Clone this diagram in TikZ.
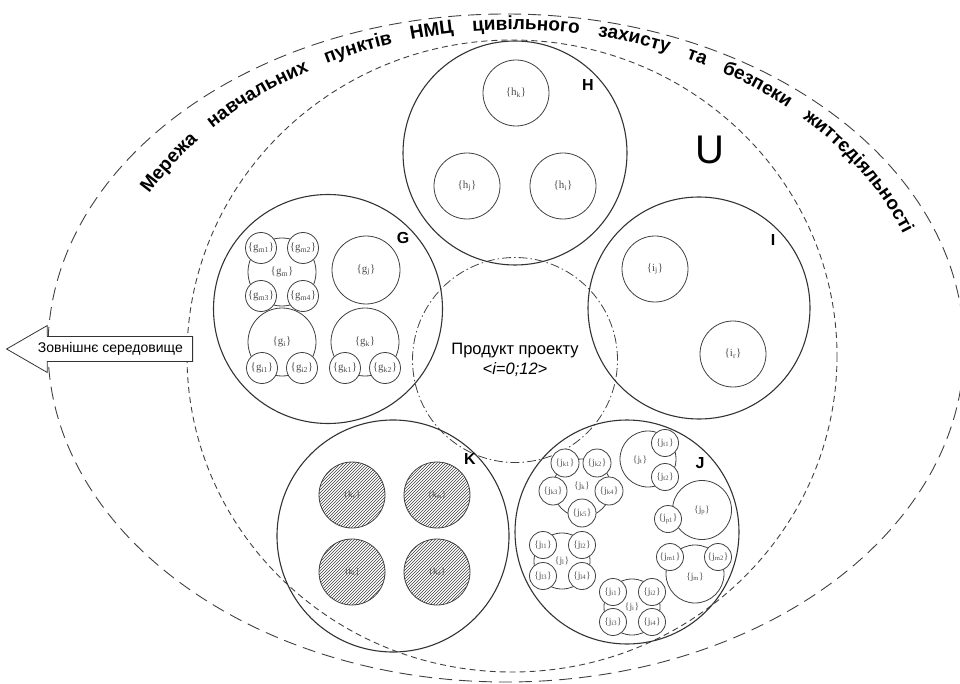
\documentclass[tikz,border=0pt]{standalone}
\usepackage{fontspec}
\setmainfont{Liberation Sans}
\newfontfamily\labfont{Liberation Serif}
\usetikzlibrary{shapes.arrows,patterns,decorations.text}
\newcommand{\setl}[2]{{\labfont\{#1\textsubscript{#2}\}}}
\newcommand{\arcfont}{\bfseries\fontsize{19}{19}\selectfont}

\begin{document}
\begin{tikzpicture}[x=1pt, y=-1pt,
    every node/.style={inner sep=0pt},
    outer/.style={draw=black!75, line width=0.9pt, dash pattern=on 13pt off 7pt},
    inner/.style={draw=black!75, line width=0.9pt, dash pattern=on 6pt off 4pt},
    prodc/.style={circle, draw=black!75, line width=0.8pt, dash pattern=on 9pt off 3pt on 1.5pt off 3pt, align=center, font=\fontsize{16.5}{20}\selectfont},
    area/.style={circle, draw=black!80, line width=1.1pt},
    tag/.style={font=\bfseries\fontsize{16}{16}\selectfont},
    elem/.style={circle, draw=black!75, line width=0.8pt, text=black!70, font=\fontsize{11}{11}\selectfont},
    part/.style={elem, fill=white, minimum size=31},
    jelem/.style={elem, font=\fontsize{9.5}{9.5}\selectfont},
    jpart/.style={jelem, fill=white, minimum size=27},
    jlab/.style={text=black!70, font=\fontsize{9.5}{9.5}\selectfont},
    hatch/.style={elem, minimum size=66, pattern=north east lines, pattern color=black!75, font=\fontsize{9}{9}\selectfont},
    envarrow/.style={single arrow, draw=black!80, line width=0.8pt, fill=white, shape border rotate=180, single arrow head extend=11pt, single arrow tip angle=60, minimum height=186pt, inner xsep=2pt, inner ysep=5.5pt, font=\fontsize{14}{14}\selectfont}]

    \useasboundingbox (0,0) rectangle (960,684);

    \draw[outer] (506,348) ellipse [x radius=458, y radius=334];
    \draw[inner] (512,356) ellipse [x radius=325, y radius=316];

    \path[decorate, decoration={text along path, text align={fit to path stretching spaces},
        text={|\arcfont|Мережа навчальних пунктів НМЦ цивільного захисту та безпеки життєдіяльності}}]
        (149.3,193.8) arc [start angle=-151, end angle=-21, x radius=417, y radius=318];

    \node[font=\fontsize{40}{40}\selectfont] (U) at (710,150) {U};

    \node[prodc, minimum size=205] (prod) at (515,360) {Продукт проекту\\\textit{<i=0;12>}};

    \node[area, minimum size=224] (H) at (515,153) {};
    \node[tag] (Htag) at (588,85) {H};
    \node[elem, minimum size=66] (hk) at (516,93) {\setl{h}{k}};
    \node[elem, minimum size=66] (hj) at (467,186) {\setl{h}{j}};
    \node[elem, minimum size=66] (hi) at (563,186) {\setl{h}{i}};

    \node[area, minimum size=222] (I) at (699,308) {};
    \node[tag] (Itag) at (773,240) {I};
    \node[elem, minimum size=66] (ij) at (655,269) {\setl{i}{j}};
    \node[elem, minimum size=66] (ir) at (733,354) {\setl{i}{r}};

    \node[area, minimum size=229] (G) at (328,309) {};
    \node[tag] (Gtag) at (403,238) {G};
    \node[elem, minimum size=68] (gm) at (282,272) {\setl{g}{m}};
    \node[part] (gm1) at (261,248) {\setl{g}{m1}};
    \node[part] (gm2) at (303,248) {\setl{g}{m2}};
    \node[part] (gm3) at (261,296) {\setl{g}{m3}};
    \node[part] (gm4) at (303,296) {\setl{g}{m4}};
    \node[elem, minimum size=68] (gj) at (366,270) {\setl{g}{j}};
    \node[elem, minimum size=68] (gi) at (282,342) {\setl{g}{i}};
    \node[part] (gi1) at (262,368) {\setl{g}{i1}};
    \node[part] (gi2) at (302,368) {\setl{g}{i2}};
    \node[elem, minimum size=68] (gk) at (365,342) {\setl{g}{k}};
    \node[part] (gk1) at (345,368) {\setl{g}{k1}};
    \node[part] (gk2) at (385,368) {\setl{g}{k2}};

    \node[area, minimum size=232] (K) at (393,536) {};
    \node[tag] (Ktag) at (470,459) {K};
    \node[hatch] (kv) at (352,495) {\setl{k}{v}};
    \node[hatch] (km) at (437,495) {\setl{k}{m}};
    \node[hatch] (kl) at (352,572) {\setl{k}{l}};
    \node[hatch] (kd) at (437,572) {\setl{k}{d}};

    \node[area, minimum size=224] (J) at (627,532) {};
    \node[tag] (Jtag) at (700,463) {J};
    \node[jelem, minimum size=56] (jt) at (648,459) {};
    \node[jpart] (jt1) at (665,443) {\setl{j}{t1}};
    \node[jpart] (jt2) at (665,477) {\setl{j}{t2}};
    \node[jlab] (jtl) at (640,460) {\setl{j}{t}};
    \node[jelem, minimum size=58] (jk) at (582,488) {};
    \node[jpart, minimum size=28] (jk1) at (565,463) {\setl{j}{k1}};
    \node[jpart, minimum size=28] (jk2) at (597,463) {\setl{j}{k2}};
    \node[jpart, minimum size=28] (jk3) at (553,491) {\setl{j}{k3}};
    \node[jpart, minimum size=28] (jk4) at (609,491) {\setl{j}{k4}};
    \node[jpart, minimum size=28] (jk5) at (582,513) {\setl{j}{k5}};
    \node[jlab] (jkl) at (582,486) {\setl{j}{k}};
    \node[jelem, minimum size=59] (jp) at (702,510) {\setl{j}{p}};
    \node[jpart] (jp1) at (668,519) {\setl{j}{p1}};
    \node[jelem, minimum size=58] (jm) at (695,574) {};
    \node[jpart] (jm1) at (670,557) {\setl{j}{m1}};
    \node[jpart] (jm2) at (718,557) {\setl{j}{m2}};
    \node[jlab] (jml) at (695,577) {\setl{j}{m}};
    \node[jelem, minimum size=56] (jl) at (562,561) {};
    \node[jpart] (jl1) at (543,545) {\setl{j}{l1}};
    \node[jpart] (jl2) at (582,545) {\setl{j}{l2}};
    \node[jpart] (jl3) at (543,576) {\setl{j}{l3}};
    \node[jpart] (jl4) at (582,576) {\setl{j}{l4}};
    \node[jlab] (jll) at (562,561) {\setl{j}{l}};
    \node[jelem, minimum size=56] (ji) at (632,607) {};
    \node[jpart] (ji1) at (613,592) {\setl{j}{i1}};
    \node[jpart] (ji2) at (652,592) {\setl{j}{i2}};
    \node[jpart] (ji3) at (613,622) {\setl{j}{i3}};
    \node[jpart] (ji4) at (652,622) {\setl{j}{i4}};
    \node[jlab] (jil) at (632,607) {\setl{j}{i}};

    \node[envarrow, anchor=tail] (env) at (193,349) {Зовнішнє середовище};
\end{tikzpicture}
\end{document}
